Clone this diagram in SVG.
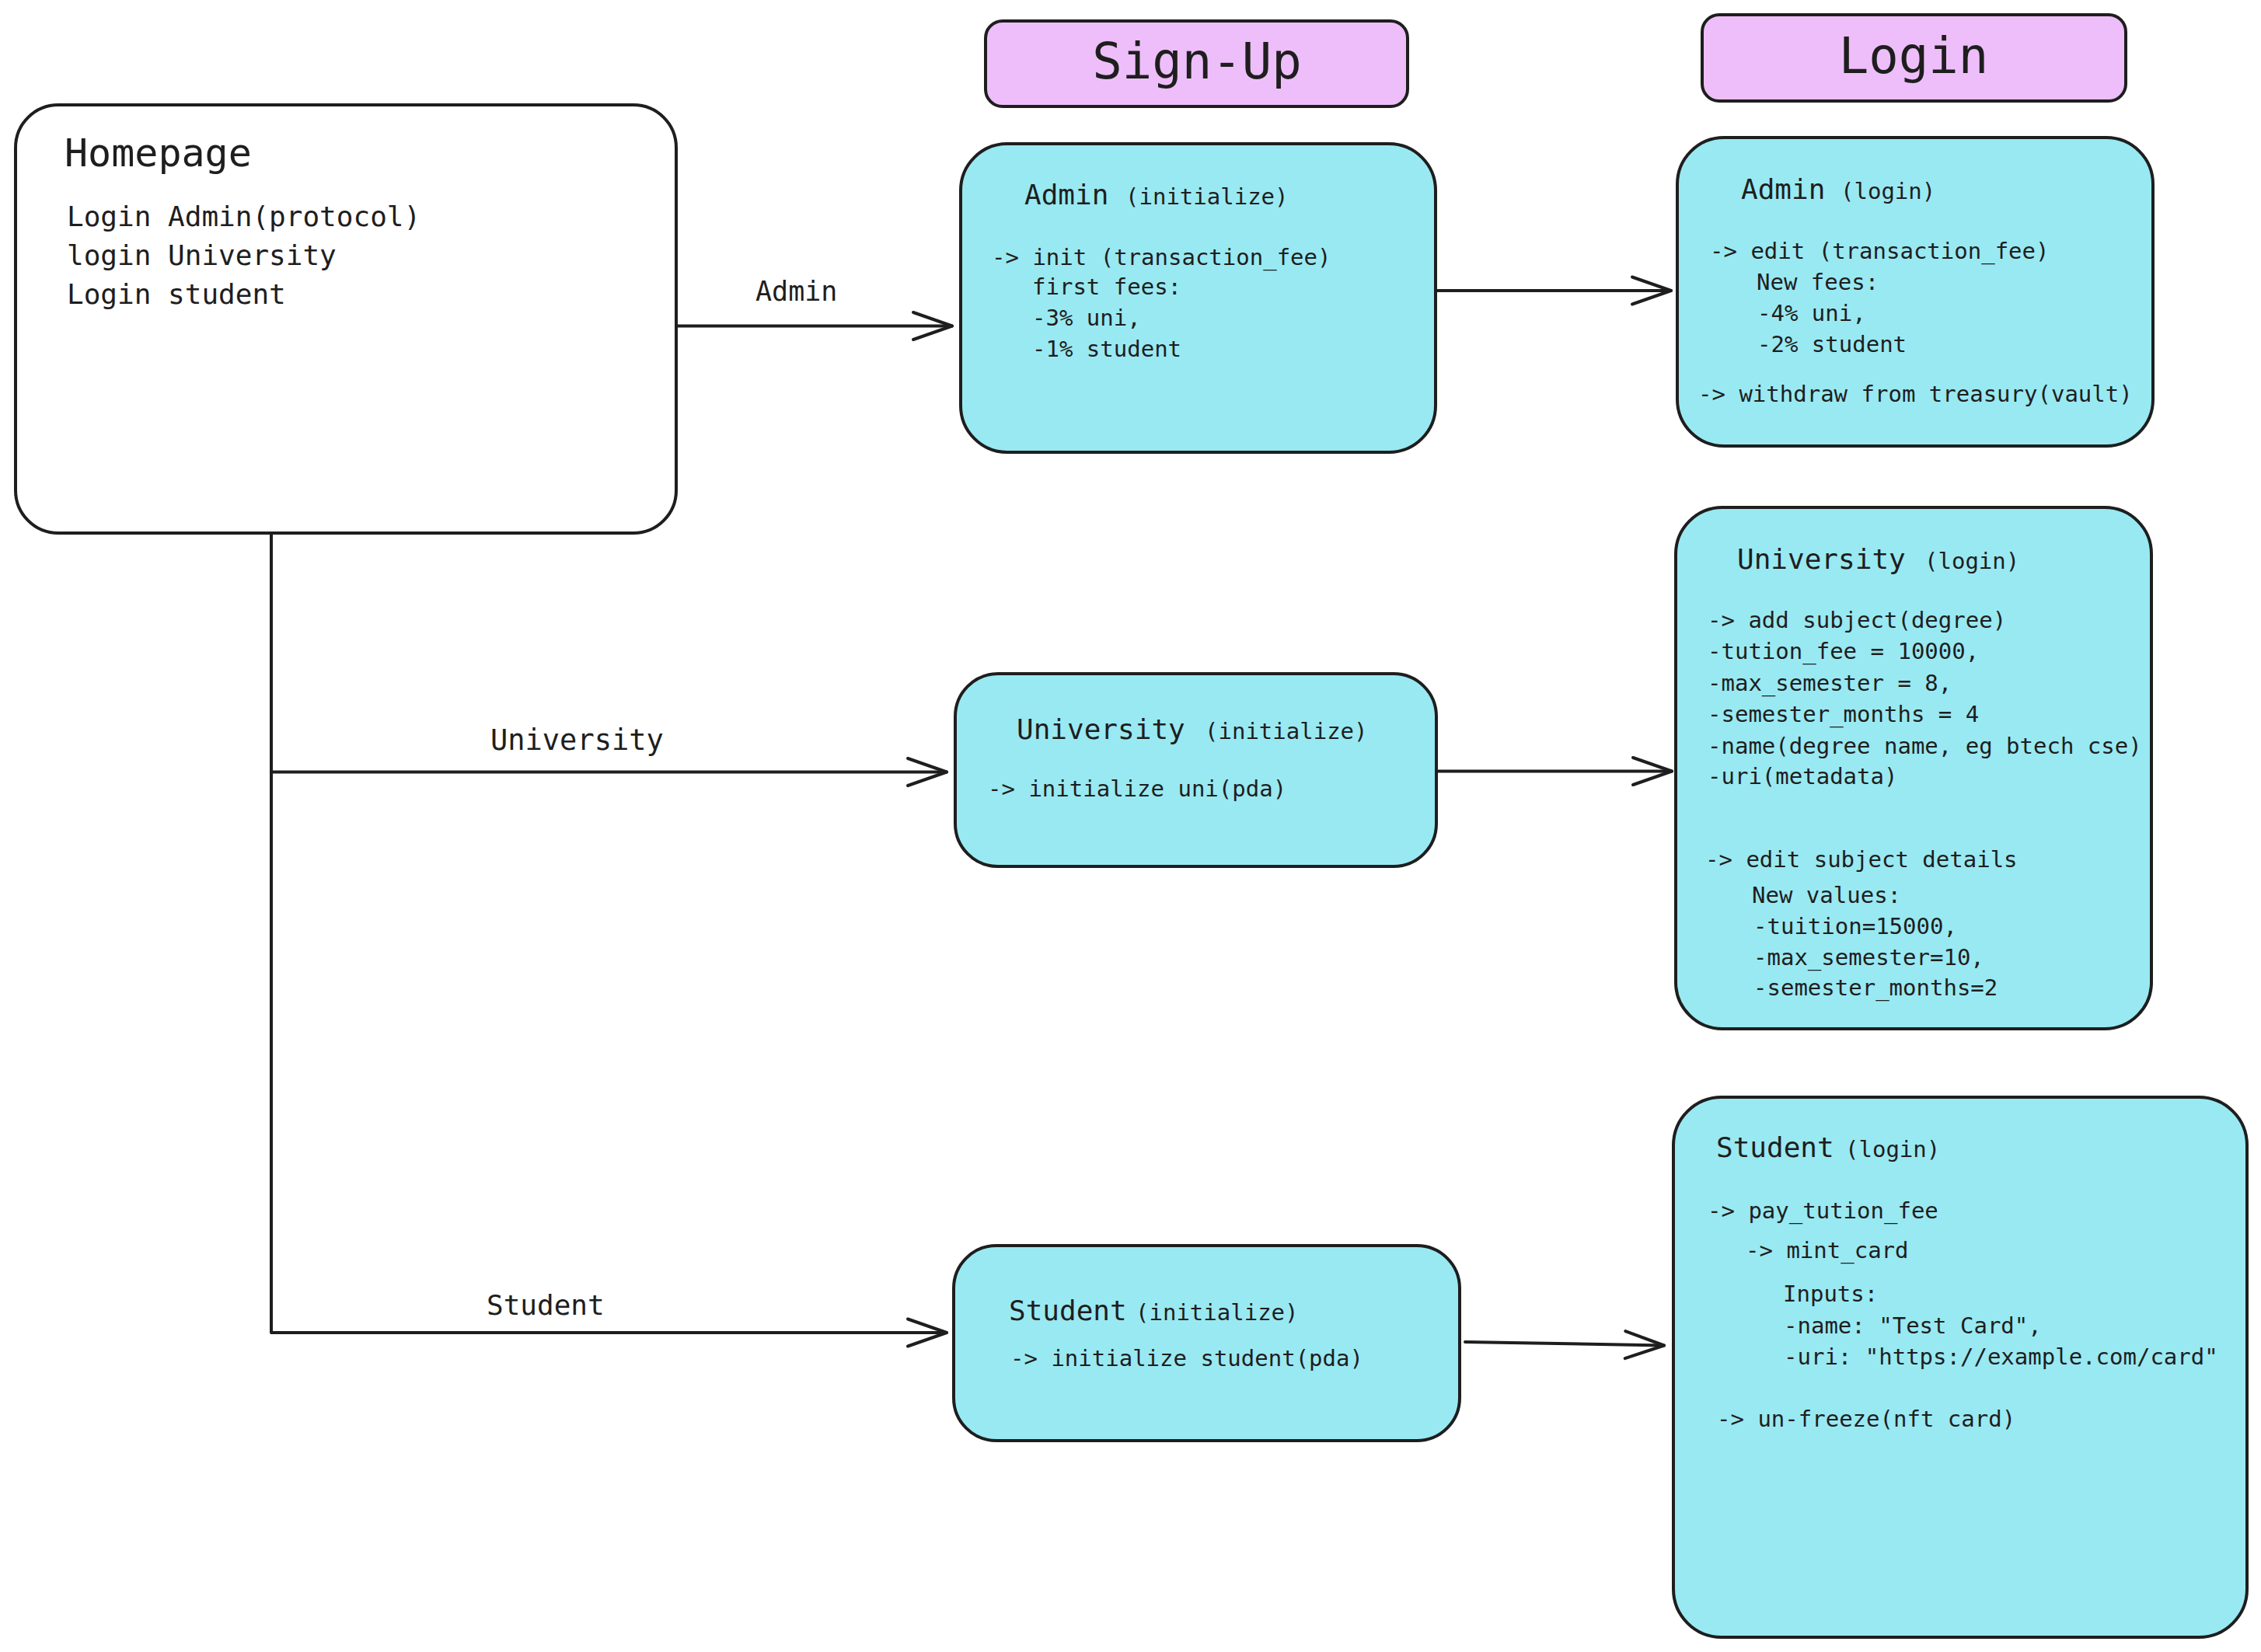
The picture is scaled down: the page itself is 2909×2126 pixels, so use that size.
<svg xmlns="http://www.w3.org/2000/svg" width="2909" height="2126" viewBox="0 0 2909 2126">
<style>
.box{stroke:#1e1e1e;stroke-width:4;fill:#99e9f2}
.hdr{stroke:#1e1e1e;stroke-width:4;fill:#eebefa}
.home{stroke:#1e1e1e;stroke-width:4;fill:#ffffff}
.t{font-family:"DejaVu Sans Mono","Liberation Mono",monospace;fill:#1e1e1e}
.b{font-size:29px}
.ti{font-size:36px}
.big{font-size:64px;text-anchor:middle}
.con{fill:none;stroke:#1e1e1e;stroke-width:4;stroke-linecap:round;stroke-linejoin:round}
</style>
<defs>
<marker id="arr" markerUnits="userSpaceOnUse" markerWidth="80" markerHeight="60" viewBox="-60 -30 80 60" refX="0" refY="0" orient="auto" overflow="visible">
<path d="M-50,-17.5 L0,0 L-50,17.5" fill="none" stroke="#1e1e1e" stroke-width="4" stroke-linecap="round" stroke-linejoin="round"/>
</marker>
</defs>
<rect width="2909" height="2126" fill="#ffffff"/>

<g id="connectors">
<path class="con" d="M872,419.5 L1225,419.5" marker-end="url(#arr)"/>
<path class="con" d="M1849,374 L2150,374" marker-end="url(#arr)"/>
<path class="con" d="M349,686 L349,1715 L1218,1715" marker-end="url(#arr)"/>
<path class="con" d="M349,993.5 L1218,993.5" marker-end="url(#arr)"/>
<path class="con" d="M1849,992.5 L2151,992.5" marker-end="url(#arr)"/>
<path class="con" d="M1885,1727 L2141,1731.5" marker-end="url(#arr)"/>
<text class="t" x="972" y="387" font-size="35">Admin</text>
<text class="t" x="631" y="965" font-size="37">University</text>
<text class="t" x="626" y="1692" font-size="36">Student</text>
</g>

<g id="homepage">
<rect class="home" x="20" y="135" width="850" height="551" rx="55"/>
<text class="t" x="83" y="214" font-size="50">Homepage</text>
<text class="t ti" x="86" y="291">Login Admin(protocol)</text>
<text class="t ti" x="86" y="341">login University</text>
<text class="t ti" x="86" y="391">Login student</text>
</g>

<g id="signup-header">
<rect class="hdr" x="1268" y="27" width="543" height="110" rx="22"/>
<text class="t big" x="1540" y="101">Sign-Up</text>
</g>

<g id="login-header">
<rect class="hdr" x="2190" y="19" width="545" height="111" rx="22"/>
<text class="t big" x="2462" y="94">Login</text>
</g>

<g id="admin-signup">
<rect class="box" x="1236" y="185" width="611" height="397" rx="60"/>
<text class="t ti" x="1318" y="263">Admin</text>
<text class="t b" x="1448" y="263">(initialize)</text>
<text class="t b" x="1276" y="341">-&gt; init (transaction_fee)</text>
<text class="t b" x="1328" y="379">first fees:</text>
<text class="t b" x="1328" y="419">-3% uni,</text>
<text class="t b" x="1328" y="459">-1% student</text>
</g>

<g id="admin-login">
<rect class="box" x="2158" y="177" width="612" height="397" rx="60"/>
<text class="t ti" x="2240" y="256">Admin</text>
<text class="t b" x="2368" y="256">(login)</text>
<text class="t b" x="2200" y="333">-&gt; edit (transaction_fee)</text>
<text class="t b" x="2260" y="373">New fees:</text>
<text class="t b" x="2261" y="413">-4% uni,</text>
<text class="t b" x="2261" y="453">-2% student</text>
<text class="t b" x="2185" y="517">-&gt; withdraw from treasury(vault)</text>
</g>

<g id="university-signup">
<rect class="box" x="1229" y="867" width="619" height="248" rx="55"/>
<text class="t ti" x="1308" y="951">University</text>
<text class="t b" x="1550" y="951">(initialize)</text>
<text class="t b" x="1271" y="1025">-&gt; initialize uni(pda)</text>
</g>

<g id="university-login">
<rect class="box" x="2156" y="653" width="612" height="671" rx="60"/>
<text class="t ti" x="2235" y="732">University</text>
<text class="t b" x="2476" y="732">(login)</text>
<text class="t b" x="2197" y="808">-&gt; add subject(degree)</text>
<text class="t b" x="2197" y="848">-tution_fee = 10000,</text>
<text class="t b" x="2197" y="889">-max_semester = 8,</text>
<text class="t b" x="2197" y="929">-semester_months = 4</text>
<text class="t b" x="2197" y="970">-name(degree name, eg btech cse)</text>
<text class="t b" x="2197" y="1009">-uri(metadata)</text>
<text class="t b" x="2194" y="1116">-&gt; edit subject details</text>
<text class="t b" x="2254" y="1162">New values:</text>
<text class="t b" x="2256" y="1202">-tuition=15000,</text>
<text class="t b" x="2256" y="1242">-max_semester=10,</text>
<text class="t b" x="2256" y="1281">-semester_months=2</text>
</g>

<g id="student-signup">
<rect class="box" x="1227" y="1603" width="651" height="251" rx="55"/>
<text class="t ti" x="1298" y="1699">Student</text>
<text class="t b" x="1461" y="1699">(initialize)</text>
<text class="t b" x="1300" y="1758">-&gt; initialize student(pda)</text>
</g>

<g id="student-login">
<rect class="box" x="2153" y="1412" width="738" height="695" rx="62"/>
<text class="t ti" x="2208" y="1489">Student</text>
<text class="t b" x="2374" y="1489">(login)</text>
<text class="t b" x="2197" y="1568">-&gt; pay_tution_fee</text>
<text class="t b" x="2246" y="1619">-&gt; mint_card</text>
<text class="t b" x="2294" y="1675">Inputs:</text>
<text class="t b" x="2295" y="1716">-name: "Test Card",</text>
<text class="t b" x="2295" y="1756">-uri: "https://example.com/card"</text>
<text class="t b" x="2209" y="1836">-&gt; un-freeze(nft card)</text>
</g>
</svg>
